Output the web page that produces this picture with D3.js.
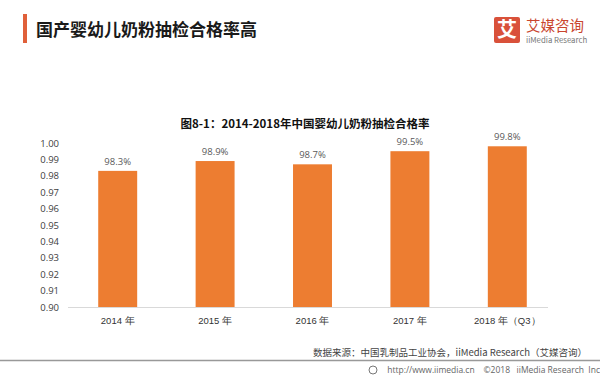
<!DOCTYPE html>
<html><head><meta charset="utf-8">
<script src="https://cdn.jsdelivr.net/npm/d3@7"></script>
<style>
body{margin:0;background:#fff;}
svg{display:block;font-family:"Noto Sans CJK SC","Noto Sans",sans-serif;}
text{white-space:pre;}
</style></head>
<body><svg id="c" width="600" height="390"></svg>
<script>
const categories = ["2014 年","2015 年","2016 年","2017 年","2018 年（Q3）"];
const values = [0.983,0.989,0.987,0.995,0.998];
const valueLabels = ["98.3%","98.9%","98.7%","99.5%","99.8%"];
const yTicks = [0.90,0.91,0.92,0.93,0.94,0.95,0.96,0.97,0.98,0.99,1.00];

const svg = d3.select("#c");
svg.append("rect").attr("width",600).attr("height",390).attr("fill","#fff");

// header
svg.append("rect").attr("x",23).attr("y",14).attr("width",4).attr("height",29).attr("fill","#e0603a");
svg.append("text").attr("x",36).attr("y",36).attr("font-size",17).attr("font-weight","bold").attr("fill","#1a1a1a").text("国产婴幼儿奶粉抽检合格率高");

// logo
svg.append("rect").attr("x",494).attr("y",17).attr("width",26).attr("height",26).attr("rx",2).attr("fill","#d9513a");
svg.append("text").attr("x",507).attr("y",37).attr("text-anchor","middle").attr("font-size",20).attr("font-weight","bold").attr("fill","#fff").text("艾");
svg.append("text").attr("x",526).attr("y",30.5).attr("font-size",14.5).attr("fill","#c9452e").text("艾媒咨询");
svg.append("text").attr("x",526).attr("y",42.5).attr("font-size",7.8).attr("fill","#777").text("iiMedia Research");

// chart title
svg.append("text").attr("x",305).attr("y",128).attr("text-anchor","middle").attr("font-size",11.5).attr("font-weight","bold").attr("fill","#111").text("图8-1：2014-2018年中国婴幼儿奶粉抽检合格率");

const x = d3.scaleBand().domain(categories).range([69,556]).paddingInner(0.6).paddingOuter(0.3);
const y = d3.scaleLinear().domain([0.90,1.00]).range([307,143]);

// axis line
svg.append("line").attr("x1",68).attr("x2",548).attr("y1",307.5).attr("y2",307.5).attr("stroke","#d9d9d9");

// y axis
const ya = svg.append("g").attr("transform","translate(59,0)")
  .call(d3.axisLeft(y).tickValues(yTicks).tickFormat(d3.format(".2f")).tickSize(0).tickPadding(0));
ya.select(".domain").remove();
ya.selectAll("text").attr("font-size",9.5).attr("fill","#404040").attr("font-family","'Open Sans','Noto Sans',sans-serif");

// x axis
const xa = svg.append("g").attr("transform","translate(0,307)")
  .call(d3.axisBottom(x).tickSize(0).tickPadding(10));
xa.select(".domain").remove();
xa.selectAll("text").attr("font-size",9.5).attr("fill","#333");

// bars
const data = categories.map((c,i)=>({c,v:values[i],l:valueLabels[i]}));
svg.selectAll(".bar").data(data).enter().append("rect")
  .attr("x",d=>x(d.c)).attr("width",x.bandwidth())
  .attr("y",d=>y(d.v)).attr("height",d=>y(0.90)-y(d.v)).attr("fill","#ed7d31");
svg.selectAll(".lbl").data(data).enter().append("text")
  .attr("x",d=>x(d.c)+x.bandwidth()/2).attr("y",d=>y(d.v)-6)
  .attr("text-anchor","middle").attr("font-size",9.5).attr("fill","#595959")
  .attr("font-family","'Open Sans','Noto Sans',sans-serif").text(d=>d.l);

// source
svg.append("text").attr("x",587).attr("y",356).attr("text-anchor","end").attr("font-size",9.5).attr("fill","#444").text("数据来源：中国乳制品工业协会，iiMedia Research（艾媒咨询）");
svg.append("line").attr("x1",0).attr("x2",600).attr("y1",360.5).attr("y2",360.5).attr("stroke","#999").attr("stroke-width",1.5);
svg.append("text").attr("x",600).attr("y",373).attr("text-anchor","end").attr("font-size",8.5).attr("fill","#666").attr("font-family","'Open Sans','Noto Sans',sans-serif").text("http://www.iimedia.cn    ©2018   iiMedia Research  Inc");
svg.append("circle").attr("cx",373).attr("cy",370).attr("r",4).attr("fill","none").attr("stroke","#777");
</script></body></html>
